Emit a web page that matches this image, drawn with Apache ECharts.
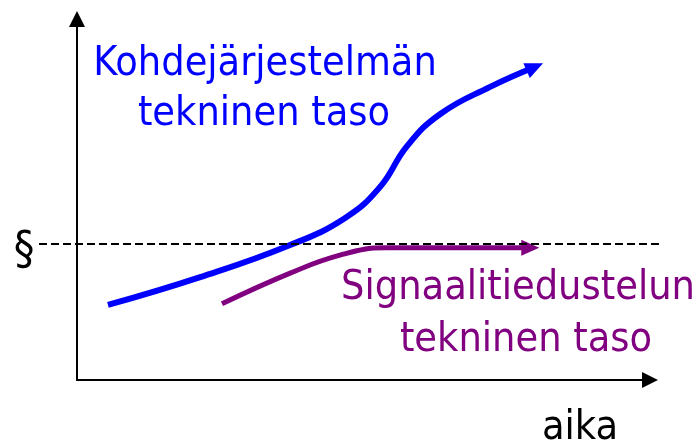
<!DOCTYPE html>
<html>
<head>
<meta charset="utf-8">
<script src="https://cdn.jsdelivr.net/npm/echarts@6/dist/echarts.min.js"></script>
<style>
  html, body { margin: 0; padding: 0; background: #fff; }
  #main { width: 698px; height: 443px; }
</style>
</head>
<body>
<div id="main"></div>
<script>
// arvot luettu kuvasta, akselit 0..100
const kohdeX = [5.4, 21.5, 37.2, 46.8, 52.9, 57.6, 63.4, 72.1, 79.9]
const kohdeY = [20.8, 28.5, 37.4, 44.9, 53.5, 64.8, 73.7, 81.2, 86.7]
const signaaliX = [25.3, 37.2, 45.9, 53.8, 66.8, 79.1]
const signaaliY = [21.1, 29.6, 34.6, 36.6, 36.6, 36.6]
const rajaTaso = 37.7
const rajaX = [0, 100]

const FONT = "'DejaVu Sans Condensed', 'DejaVu Sans', sans-serif"

function toData(xs, ys, color, size) {
    return xs.map((x, i) => {
        if (i === xs.length - 1) {
            return { value: [x, ys[i]], symbol: 'triangle', symbolSize: size, itemStyle: { color: color } }
        }
        return [x, ys[i]]
    })
}

const chart = echarts.init(document.getElementById('main'))

const hiddenAxis = {
    type: 'value', min: 0, max: 100,
    axisLine: { show: false }, axisTick: { show: false },
    axisLabel: { show: false }, splitLine: { show: false }
}
const arrowAxis = {
    type: 'value', min: 0, max: 100,
    axisLine: {
        show: true,
        symbol: ['none', 'triangle'],
        symbolSize: [16, 16],
        lineStyle: { color: '#000', width: 2 }
    },
    axisTick: { show: false },
    axisLabel: { show: false },
    splitLine: { show: false }
}

const option = {
    animation: false,
    grid: [
        { left: 77, right: 48, top: 19, bottom: 63 },
        { left: 39, right: 35, top: 19, bottom: 63 }
    ],
    xAxis: [
        Object.assign({ gridIndex: 0 }, arrowAxis),
        Object.assign({ gridIndex: 1 }, hiddenAxis)
    ],
    yAxis: [
        Object.assign({ gridIndex: 0 }, arrowAxis),
        Object.assign({ gridIndex: 1 }, hiddenAxis)
    ],
    series: [
        {
            name: 'Kohdejärjestelmän tekninen taso',
            type: 'line',
            xAxisIndex: 0, yAxisIndex: 0,
            data: toData(kohdeX, kohdeY, '#0000ff', [16, 18]),
            smooth: 0.45,
            symbol: 'none',
            lineStyle: { color: '#0000ff', width: 6, cap: 'butt' },
            z: 3
        },
        {
            name: 'Signaalitiedustelun tekninen taso',
            type: 'line',
            xAxisIndex: 0, yAxisIndex: 0,
            data: toData(signaaliX, signaaliY, '#800080', [16, 18]),
            smooth: 0.45,
            symbol: 'none',
            lineStyle: { color: '#800080', width: 5, cap: 'butt' },
            z: 3
        },
        {
            name: '§',
            type: 'line',
            xAxisIndex: 1, yAxisIndex: 1,
            data: rajaX.map(x => [x, rajaTaso]),
            symbol: 'none',
            lineStyle: { color: '#000', width: 2, type: [8, 4] },
            z: 4
        }
    ],
    graphic: [
        { type: 'text', x: 265, y: 64, style: { text: 'Kohdejärjestelmän', font: '41px ' + FONT, fill: '#0000ff', textAlign: 'center', textVerticalAlign: 'middle' } },
        { type: 'text', x: 264, y: 114, style: { text: 'tekninen taso', font: '41px ' + FONT, fill: '#0000ff', textAlign: 'center', textVerticalAlign: 'middle' } },
        { type: 'text', x: 518, y: 288, style: { text: 'Signaalitiedustelun', font: '41px ' + FONT, fill: '#800080', textAlign: 'center', textVerticalAlign: 'middle' } },
        { type: 'text', x: 526, y: 340, style: { text: 'tekninen taso', font: '41px ' + FONT, fill: '#800080', textAlign: 'center', textVerticalAlign: 'middle' } },
        { type: 'text', x: 580, y: 428, style: { text: 'aika', font: '41px ' + FONT, fill: '#000', textAlign: 'center', textVerticalAlign: 'middle' } },
        { type: 'text', x: 24, y: 252, style: { text: '§', font: '46px ' + FONT, fill: '#000', textAlign: 'center', textVerticalAlign: 'middle' } }
    ]
}
chart.setOption(option)

// nuolenkärjet viimeisen janan suuntaan
function arrowRotate(xs, ys) {
    const n = xs.length
    const a = chart.convertToPixel({ gridIndex: 0 }, [xs[n - 2], ys[n - 2]])
    const b = chart.convertToPixel({ gridIndex: 0 }, [xs[n - 1], ys[n - 1]])
    return Math.atan2(a[1] - b[1], b[0] - a[0]) * 180 / Math.PI - 90
}
const s1 = toData(kohdeX, kohdeY, '#0000ff', [16, 18])
s1[s1.length - 1].symbolRotate = arrowRotate(kohdeX, kohdeY)
const s2 = toData(signaaliX, signaaliY, '#800080', [16, 18])
s2[s2.length - 1].symbolRotate = arrowRotate(signaaliX, signaaliY)
chart.setOption({ series: [{ data: s1 }, { data: s2 }] })
</script>
</body>
</html>
